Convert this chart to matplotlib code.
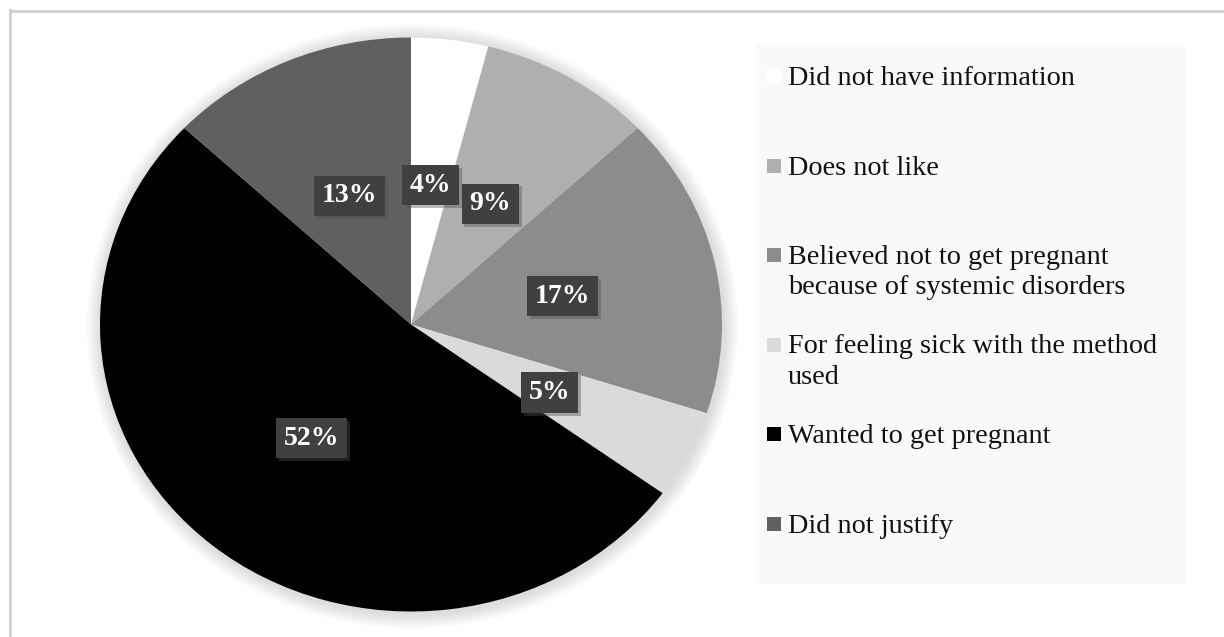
import matplotlib
matplotlib.use('Agg')
import matplotlib.pyplot as plt
import matplotlib.patches as mpatches
import matplotlib.patheffects as pe
from matplotlib.lines import Line2D

# ── Data ───────────────────────────────────────────────────────────────────
reasons = ['Did not have information', 'Does not like',
           'Believed not to get pregnant\nbecause of systemic disorders',
           'For feeling sick with the method\nused',
           'Wanted to get pregnant', 'Did not justify']
shares = [4, 9, 17, 5, 52, 13]
colors = ['#ffffff', '#afafaf', '#8c8c8c', '#dadada', '#000000', '#606060']

W, H = 1224, 637
fig = plt.figure(figsize=(W / 100, H / 100), dpi=100)
fig.patch.set_facecolor('white')

# outer frame (left and top edges only visible)
fig.add_artist(Line2D([9.5 / W, 9.5 / W], [0, 1 - 10 / H], transform=fig.transFigure,
                      color='#d0d0d0', lw=2))
fig.add_artist(Line2D([9.5 / W, 1], [1 - 10.5 / H, 1 - 10.5 / H], transform=fig.transFigure,
                      color='#d0d0d0', lw=2))

# ── Pie (slightly stretched horizontally, like the source image) ───────────
cx, cy, rx, ry = 411, 324.5, 311, 287
ax = fig.add_axes([(cx - rx) / W, (H - cy - ry) / H, 2 * rx / W, 2 * ry / H])

# soft glow around the pie
for k in range(12, 0, -1):
    ax.add_patch(mpatches.Ellipse((0.004, -0.006), 2 + k * 0.008, 2 + k * 0.009,
                                  facecolor='#9a9a9a', edgecolor='none',
                                  alpha=0.028, zorder=0, clip_on=False))

wedges, texts, autotexts = ax.pie(
    shares, colors=colors, startangle=90, counterclock=False,
    autopct='%d%%', pctdistance=0.5, radius=1,
    wedgeprops=dict(linewidth=0))
ax.set_xlim(-1, 1)
ax.set_ylim(-1, 1)
ax.set_aspect('auto')
ax.axis('off')

for t in autotexts:
    t.set_fontfamily('Liberation Serif')
    t.set_fontweight('bold')
    t.set_fontsize(20)
    t.set_color('white')
    t.set_va('center_baseline')
    t.set_bbox(dict(boxstyle='square,pad=0.28', facecolor='#404040',
                    edgecolor='none'))
    t.get_bbox_patch().set_path_effects([
        pe.SimplePatchShadow(offset=(2, -2), shadow_rgbFace='#505050', alpha=0.4),
        pe.Normal()])

# ── Legend (drawn by hand to keep Excel-style spacing) ─────────────────────
fig.add_artist(mpatches.Rectangle((756 / W, 1 - 584 / H), (1185 - 756) / W, (584 - 45) / H,
                                  transform=fig.transFigure, facecolor='#f9f9f9',
                                  edgecolor='none', zorder=0))
y0, dy, line_px = 76, 89.6, 30
for i, (lab, col) in enumerate(zip(reasons, colors)):
    my = y0 + dy * i
    fig.add_artist(mpatches.Rectangle((767 / W, 1 - (my + 7) / H), 14 / W, 14 / H,
                                      transform=fig.transFigure, facecolor=col,
                                      edgecolor='none', zorder=2))
    extra = lab.count('\n') * line_px
    fig.text(788 / W, 1 - (my + 9 + extra) / H, lab, fontfamily='Liberation Serif',
             fontsize=20.3, color='#111111', va='baseline', ha='left',
             linespacing=1.28, zorder=3)

fig.savefig('out.png', dpi=100, facecolor='white')
